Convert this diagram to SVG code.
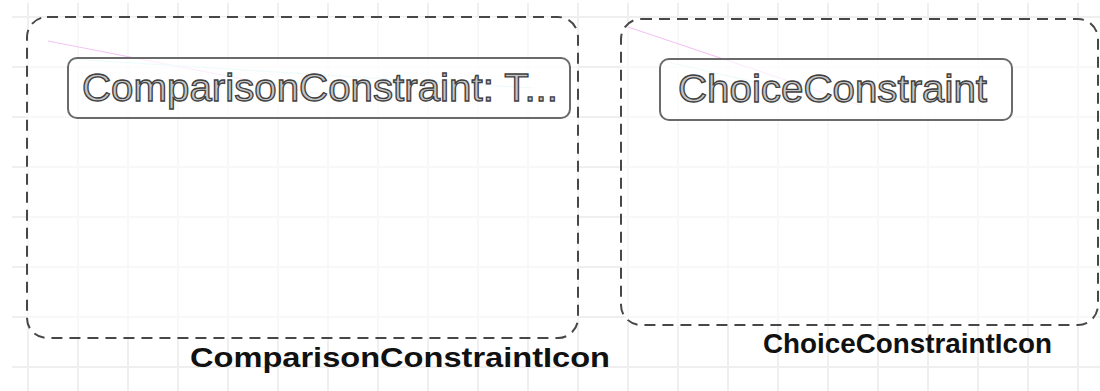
<svg xmlns="http://www.w3.org/2000/svg" width="1100" height="391" viewBox="0 0 1100 391">
  <style>
    .grid line { stroke: #efefef; stroke-width: 2; }
    .container { fill: #ffffff; fill-opacity: 0.55; stroke: #474747; stroke-width: 2; stroke-dasharray: 11 7; }
    .box { fill: #ffffff; fill-opacity: 0.7; stroke: #6a6a6a; stroke-width: 2; }
    .boxtext { font-family: "Liberation Sans", Arial, sans-serif; font-size: 39px; fill: #c4c4c4; stroke: #404040; stroke-width: 1.3; }
    .label { font-family: "Liberation Sans", Arial, sans-serif; font-size: 28px; font-weight: bold; fill: #111111; }
    .ghost1 { stroke: #f3c6f3; stroke-width: 1.2; fill: none; }
    .ghost2 { stroke: #c6f2f2; stroke-width: 1.2; fill: none; }
  </style>
  <rect x="0" y="0" width="1100" height="391" fill="#ffffff"/>
  <g class="grid">
    <line x1="28" y1="3" x2="28" y2="391"/>
    <line x1="78" y1="3" x2="78" y2="391"/>
    <line x1="128" y1="3" x2="128" y2="391"/>
    <line x1="178" y1="3" x2="178" y2="391"/>
    <line x1="228" y1="3" x2="228" y2="391"/>
    <line x1="278" y1="3" x2="278" y2="391"/>
    <line x1="328" y1="3" x2="328" y2="391"/>
    <line x1="378" y1="3" x2="378" y2="391"/>
    <line x1="428" y1="3" x2="428" y2="391"/>
    <line x1="478" y1="3" x2="478" y2="391"/>
    <line x1="528" y1="3" x2="528" y2="391"/>
    <line x1="578" y1="3" x2="578" y2="391"/>
    <line x1="628" y1="3" x2="628" y2="391"/>
    <line x1="678" y1="3" x2="678" y2="391"/>
    <line x1="728" y1="3" x2="728" y2="391"/>
    <line x1="778" y1="3" x2="778" y2="391"/>
    <line x1="828" y1="3" x2="828" y2="391"/>
    <line x1="878" y1="3" x2="878" y2="391"/>
    <line x1="928" y1="3" x2="928" y2="391"/>
    <line x1="978" y1="3" x2="978" y2="391"/>
    <line x1="1028" y1="3" x2="1028" y2="391"/>
    <line x1="1078" y1="3" x2="1078" y2="391"/>
    <line x1="12" y1="17" x2="1100" y2="17"/>
    <line x1="12" y1="67" x2="1100" y2="67"/>
    <line x1="12" y1="117" x2="1100" y2="117"/>
    <line x1="12" y1="167" x2="1100" y2="167"/>
    <line x1="12" y1="217" x2="1100" y2="217"/>
    <line x1="12" y1="267" x2="1100" y2="267"/>
    <line x1="12" y1="317" x2="1100" y2="317"/>
    <line x1="12" y1="367" x2="1100" y2="367"/>
  </g>
  <g id="ComparisonConstraintIcon">
    <rect class="container" x="27" y="17" width="551" height="321" rx="20" ry="20"/>
    <text class="label" x="190" y="367" textLength="420" lengthAdjust="spacingAndGlyphs">ComparisonConstraintIcon</text>
  </g>
  <g id="ChoiceConstraintIcon">
    <rect class="container" x="621" y="19" width="477" height="306" rx="20" ry="20"/>
    <text class="label" x="763" y="353" textLength="289" lengthAdjust="spacingAndGlyphs">ChoiceConstraintIcon</text>
  </g>
  <g id="connectors">
    <path class="ghost1" d="M48,41 L330,96"/>
    <path class="ghost2" d="M70,59 L533,88"/>
    <path class="ghost1" d="M628,27 L860,105"/>
    <path class="ghost2" d="M667,62 L833,100"/>
  </g>
  <g id="ComparisonConstraint">
    <rect class="box" x="68" y="58" width="502" height="60" rx="9" ry="9"/>
    <text class="boxtext" x="82" y="101" textLength="476" lengthAdjust="spacingAndGlyphs">ComparisonConstraint: T...</text>
  </g>
  <g id="ChoiceConstraint">
    <rect class="box" x="660" y="59" width="352" height="61" rx="9" ry="9"/>
    <text class="boxtext" x="678" y="102" textLength="309" lengthAdjust="spacingAndGlyphs">ChoiceConstraint</text>
  </g>
</svg>
